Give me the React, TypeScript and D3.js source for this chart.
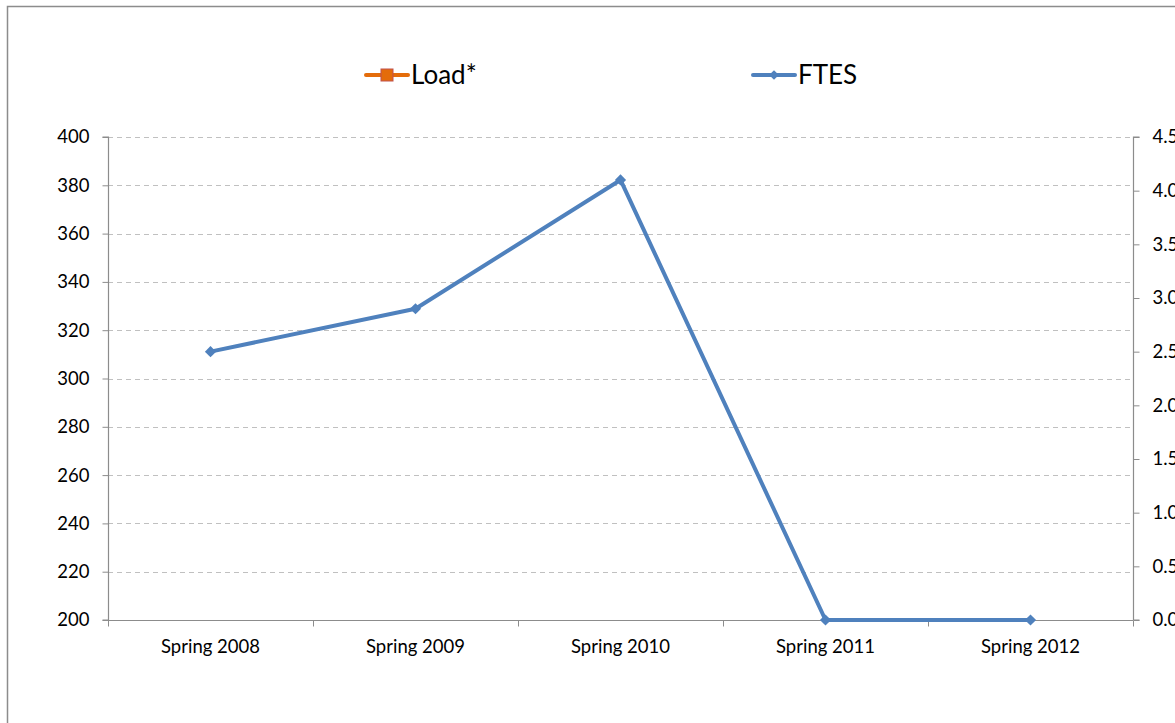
import * as d3 from "d3";
import { useEffect, useRef } from "react";

const categories = ["Spring 2008", "Spring 2009", "Spring 2010", "Spring 2011", "Spring 2012"];
// Load* sits on the left axis but shows no visible points in the chart
const loadValues: (number | null)[] = [null, null, null, null, null];
// FTES on the right axis
const ftesValues = [2.5, 2.9, 4.1, 0, 0];
const leftTicks = [200, 220, 240, 260, 280, 300, 320, 340, 360, 380, 400];
const rightTicks = [0, 0.5, 1, 1.5, 2, 2.5, 3, 3.5, 4, 4.5];

const W = 1175;
const H = 723;
const FONT = "Lato, 'Noto Sans', sans-serif";

const App = () => {
  const svgRef = useRef<SVGSVGElement>(null);

  useEffect(() => {
    const svg = d3.select(svgRef.current);
    svg.selectAll("*").remove();

    const left = 108;
    const right = 1133;
    const top = 137;
    const bottom = 620;

    // chart frame, cut off at right/bottom like the original
    svg.append("rect")
      .attr("x", 7.5).attr("y", 6.5)
      .attr("width", 1400).attr("height", 1000)
      .attr("fill", "#fff")
      .attr("stroke", "#8c8c8c")
      .attr("stroke-width", 1.5);

    const x = d3.scaleBand().domain(categories).range([left, right]);
    const yLeft = d3.scaleLinear().domain([200, 400]).range([bottom, top]);
    const yRight = d3.scaleLinear().domain([0, 4.5]).range([bottom, top]);

    // gridlines
    svg.append("g")
      .selectAll("line")
      .data(leftTicks.slice(1))
      .join("line")
      .attr("x1", left).attr("x2", right)
      .attr("y1", (d) => Math.round(yLeft(d)) + 0.5)
      .attr("y2", (d) => Math.round(yLeft(d)) + 0.5)
      .attr("stroke", "#c0c0c0")
      .attr("stroke-dasharray", "5,4");

    // left axis
    const gl = svg.append("g")
      .attr("transform", `translate(${left + 0.5},0)`)
      .call(d3.axisLeft(yLeft).tickValues(leftTicks).tickSize(6).tickPadding(13).tickFormat(d3.format("d")));
    // right axis
    const gr = svg.append("g")
      .attr("transform", `translate(${right + 0.5},0)`)
      .call(d3.axisRight(yRight).tickValues(rightTicks).tickSize(6).tickPadding(13).tickFormat(d3.format(".1f")));
    // bottom axis
    const gb = svg.append("g")
      .attr("transform", `translate(0,${bottom + 0.5})`)
      .call(d3.axisBottom(x).tickSize(0).tickPadding(19));
    gb.selectAll(".tick line").remove();
    gb.append("g")
      .selectAll("line")
      .data(d3.range(categories.length + 1))
      .join("line")
      .attr("x1", (i) => left + i * x.step() + 0.5)
      .attr("x2", (i) => left + i * x.step() + 0.5)
      .attr("y1", 0).attr("y2", 6)
      .attr("stroke", "#8c8c8c");

    for (const g of [gl, gr, gb]) {
      g.attr("font-size", null).attr("font-family", null);
      g.select(".domain").attr("stroke", "#8c8c8c").attr("stroke-width", 1.2);
      g.selectAll(".tick line").attr("stroke", "#8c8c8c");
      g.selectAll("text")
        .style("font-family", FONT)
        .style("font-size", "18.5px")
        .attr("fill", "#000");
    }
    gl.select(".domain").attr("d", `M-6,${top}H0V${bottom}H-6`);
    gr.select(".domain").attr("d", `M6,${top}H0V${bottom}H6`);
    gb.select(".domain").attr("d", `M${left},0H${right}`);

    const cx = (d: string) => (x(d) ?? 0) + x.bandwidth() / 2;

    // Load* (left axis)
    const loadLine = d3.line<number | null>()
      .defined((d) => d != null)
      .x((_, i) => cx(categories[i]))
      .y((d) => yLeft(d as number));
    svg.append("path")
      .attr("d", loadLine(loadValues))
      .attr("fill", "none")
      .attr("stroke", "#e46c0a")
      .attr("stroke-width", 4);

    // FTES (right axis)
    const ftesLine = d3.line<number>()
      .x((_, i) => cx(categories[i]))
      .y((d) => yRight(d));
    svg.append("path")
      .attr("d", ftesLine(ftesValues))
      .attr("fill", "none")
      .attr("stroke", "#4f81bd")
      .attr("stroke-width", 4)
      .attr("stroke-linejoin", "round");
    svg.append("g")
      .selectAll("path")
      .data(ftesValues)
      .join("path")
      .attr("transform", (d, i) => `translate(${cx(categories[i])},${yRight(d)})`)
      .attr("d", d3.symbol(d3.symbolDiamond2, 80)() as string)
      .attr("fill", "#4f81bd");

    // legend
    const legend = svg.append("g").style("font-family", FONT).style("font-size", "26px");
    const l1 = legend.append("g").attr("transform", "translate(366,75)");
    l1.append("line").attr("x1", 0).attr("x2", 42).attr("stroke", "#e46c0a").attr("stroke-width", 4).attr("stroke-linecap", "round");
    l1.append("rect").attr("x", 15).attr("y", -6).attr("width", 12).attr("height", 12)
      .attr("fill", "#e46c0a").attr("stroke", "#c0504d").attr("stroke-width", 1);
    l1.append("text").attr("x", 45).attr("dy", "0.35em").text("Load*");
    const l2 = legend.append("g").attr("transform", "translate(753,75)");
    l2.append("line").attr("x1", 0).attr("x2", 42).attr("stroke", "#4f81bd").attr("stroke-width", 4).attr("stroke-linecap", "round");
    l2.append("path").attr("transform", "translate(21,0)")
      .attr("d", d3.symbol(d3.symbolDiamond2, 60)() as string).attr("fill", "#4f81bd");
    l2.append("text").attr("x", 45).attr("dy", "0.35em").text("FTES");
  }, []);

  return (
    <svg
      ref={svgRef}
      width={W}
      height={H}
      style={{ position: "absolute", left: 0, top: 0, background: "#fff" }}
    />
  );
};

export default App;
